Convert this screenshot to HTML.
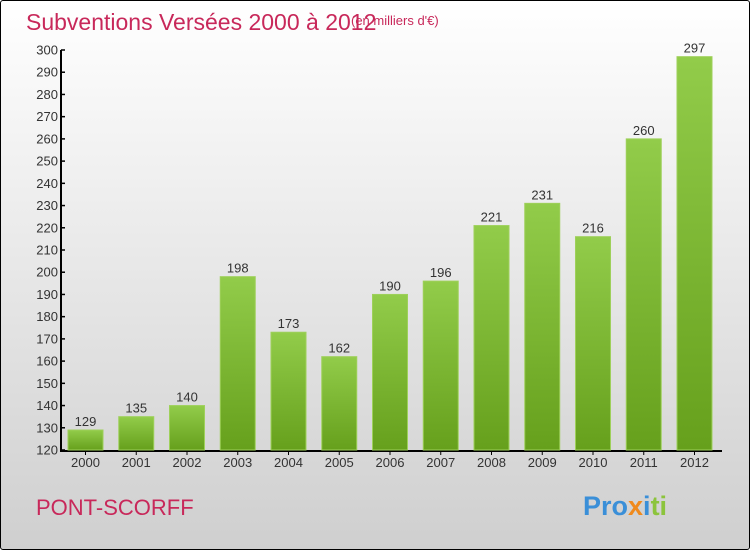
<!DOCTYPE html>
<html><head><meta charset="utf-8"><style>
html,body{margin:0;padding:0}
body{width:750px;height:550px;overflow:hidden;font-family:"Liberation Sans",sans-serif}
#wrap{position:absolute;left:0;top:0;width:748px;height:548px;border:1px solid #000;border-radius:3px;background:linear-gradient(#ffffff,#cfcfcf)}
</style></head><body>
<div id="wrap">
<svg id="chart" width="750" height="550" style="position:absolute;left:-1px;top:-1px">
<defs><linearGradient id="g" x1="0" y1="0" x2="0" y2="1"><stop offset="0" stop-color="#92cc4a"/><stop offset="1" stop-color="#66a01c"/></linearGradient></defs>
<text x="26" y="30" font-size="23" fill="#c8285a">Subventions Versées 2000 à 2012</text>
<text x="351" y="25" font-size="13" fill="#c8285a">(en milliers d'€)</text>
<text x="36" y="515" font-size="22" fill="#c8285a">PONT-SCORFF</text>
<text x="583" y="515" font-size="27" font-weight="bold"><tspan fill="#3a8fd8">Pro</tspan><tspan fill="#f08a1c">x</tspan><tspan fill="#3a8fd8">i</tspan><tspan fill="#8cc43c">ti</tspan></text>
</svg>
</div>
<script>
const categories=["2000","2001","2002","2003","2004","2005","2006","2007","2008","2009","2010","2011","2012"];
const values=[129,135,140,198,173,162,190,196,221,231,216,260,297];
const yTicks=[120,130,140,150,160,170,180,190,200,210,220,230,240,250,260,270,280,290,300];
const NS="http://www.w3.org/2000/svg";
const svg=document.getElementById('chart');
const y=v=>450-(v-120)*400/180;
const x=i=>68+i*50.75;
function mk(t,a){const e=document.createElementNS(NS,t);for(const k in a)e.setAttribute(k,a[k]);svg.appendChild(e);return e;}
const ax=mk('line',{x1:61,y1:50,x2:61,y2:451,stroke:'#000','stroke-width':2});


const bx=mk('line',{x1:60,y1:451,x2:722,y2:451,stroke:'#000','stroke-width':2});


yTicks.forEach(v=>{
 const tk=mk('line',{x1:61,y1:y(v),x2:65,y2:y(v),stroke:'#000','stroke-width':1.5});
 
 
 const t=mk('text',{x:58,y:y(v)+4.5,'font-size':13,fill:'#333','text-anchor':'end'});
 t.textContent=v;
 
 
});
categories.forEach((c,i)=>{
 const v=values[i];
 const r=mk('rect',{x:x(i),y:y(v),width:35,height:450-y(v),fill:'url(#g)',stroke:'#9ed05a','stroke-width':1});
 
 
 const tk=mk('line',{x1:x(i)+17.5,y1:451,x2:x(i)+17.5,y2:455,stroke:'#000'});
 
 
 const l=mk('text',{x:x(i)+17.5,y:467,'font-size':13,fill:'#333','text-anchor':'middle'});
 l.textContent=c;
 
 
 const vl=mk('text',{x:x(i)+17.5,y:y(v)-4,'font-size':13,fill:'#333','text-anchor':'middle'});
 vl.textContent=v;
 
 
});
</script>
</body></html>
